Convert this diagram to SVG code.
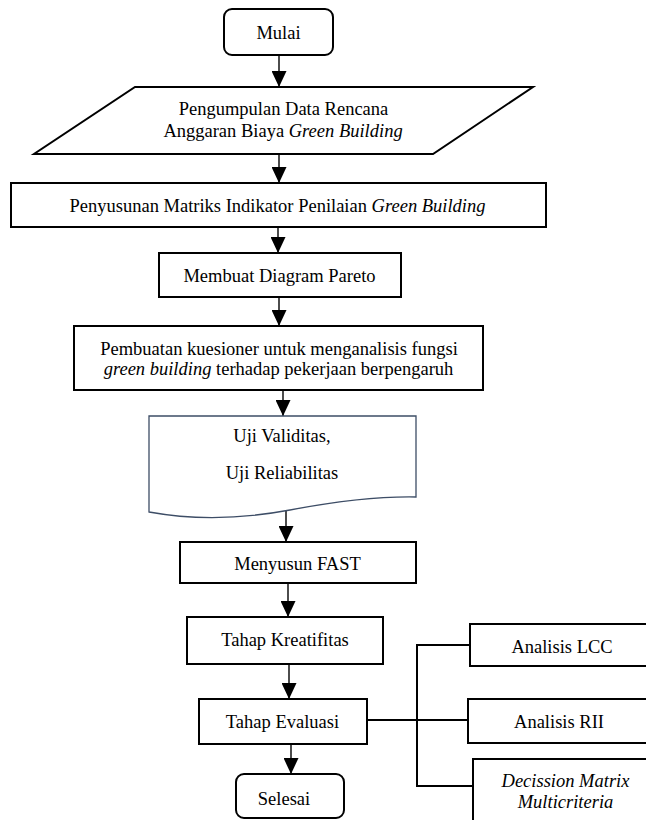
<svg xmlns="http://www.w3.org/2000/svg" width="646" height="820" viewBox="0 0 646 820">
<style>
.box{fill:#fff;stroke:#000;stroke-width:2}
.doc{fill:#fff;stroke:#3d4d66;stroke-width:1.3}
text{font-family:'Liberation Serif','Times New Roman','DejaVu Serif',serif;font-size:18.5px;fill:#000;text-anchor:middle}
.i{font-style:italic}
.arr{stroke:#000;stroke-width:1.4;fill:none;marker-end:url(#ah)}
.ln{stroke:#000;stroke-width:2;fill:none}
</style>
<defs>
<marker id="ah" markerUnits="userSpaceOnUse" markerWidth="16" markerHeight="15" viewBox="0 0 16 15" refX="16" refY="7.5" orient="auto">
<path d="M0,0 L16,7.5 L0,15 Z" fill="#000"/>
</marker>
</defs>
<rect width="646" height="820" fill="#fff"/>
<g id="connectors">
<line class="arr" x1="279" y1="55" x2="279" y2="87"/>
<line class="arr" x1="279" y1="154" x2="279" y2="183"/>
<line class="arr" x1="278" y1="227" x2="278" y2="253"/>
<line class="arr" x1="279" y1="297" x2="279" y2="326"/>
<line class="arr" x1="283" y1="390" x2="283" y2="416"/>
<line class="arr" x1="286" y1="510" x2="286" y2="542"/>
<line class="arr" x1="288" y1="583" x2="288" y2="617"/>
<line class="arr" x1="289" y1="664" x2="289" y2="699"/>
<line class="arr" x1="291" y1="744" x2="291" y2="774"/>
<path class="ln" d="M363,720 L468,720"/>
<path class="ln" d="M470,645 L417,645 L417,786 L473,786"/>
</g>
<g id="mulai">
<rect class="box" x="224" y="9" width="109" height="46" rx="8"/>
<text x="278.5" y="39" font-family="Liberation Serif, serif">Mulai</text>
</g>
<g id="pengumpulan">
<polygon class="box" points="135,87 533,87 433,154 34,154"/>
<text x="283.5" y="115">Pengumpulan Data Rencana</text>
<text x="283" y="137">Anggaran Biaya <tspan class="i">Green Building</tspan></text>
</g>
<g id="penyusunan">
<rect class="box" x="11" y="183" width="535" height="44"/>
<text x="277.5" y="212">Penyusunan Matriks Indikator Penilaian <tspan class="i">Green Building</tspan></text>
</g>
<g id="pareto">
<rect class="box" x="159" y="253" width="242" height="44"/>
<text x="279.5" y="282">Membuat Diagram Pareto</text>
</g>
<g id="kuesioner">
<rect class="box" x="74" y="326" width="409" height="64"/>
<text x="279" y="355">Pembuatan kuesioner untuk menganalisis fungsi</text>
<text x="278.5" y="375"><tspan class="i">green building</tspan> terhadap pekerjaan berpengaruh</text>
</g>
<g id="uji">
<path class="doc" d="M149,512 L149,416 L416,416 L416,497 Q365,496 290,510 Q215,524 149,512 Z"/>
<text x="282" y="442">Uji Validitas,</text>
<text x="282" y="479">Uji Reliabilitas</text>
</g>
<g id="fast">
<rect class="box" x="180" y="542" width="236" height="41"/>
<text x="297.5" y="570">Menyusun FAST</text>
</g>
<g id="kreatifitas">
<rect class="box" x="187" y="617" width="196" height="47"/>
<text x="285" y="646">Tahap Kreatifitas</text>
</g>
<g id="evaluasi">
<rect class="box" x="199" y="699" width="168" height="45"/>
<text x="282.5" y="728">Tahap Evaluasi</text>
</g>
<g id="selesai">
<rect class="box" x="236" y="774" width="108" height="44" rx="8"/>
<text x="284" y="805">Selesai</text>
</g>
<g id="lcc">
<rect class="box" x="470" y="624" width="190" height="42"/>
<text x="562" y="653">Analisis LCC</text>
</g>
<g id="rii">
<rect class="box" x="468" y="699" width="192" height="44"/>
<text x="559" y="728">Analisis RII</text>
</g>
<g id="decission">
<rect class="box" x="473" y="759" width="187" height="80"/>
<text class="i" x="565.5" y="787">Decission Matrix</text>
<text class="i" x="565.5" y="808">Multicriteria</text>
</g>
</svg>
